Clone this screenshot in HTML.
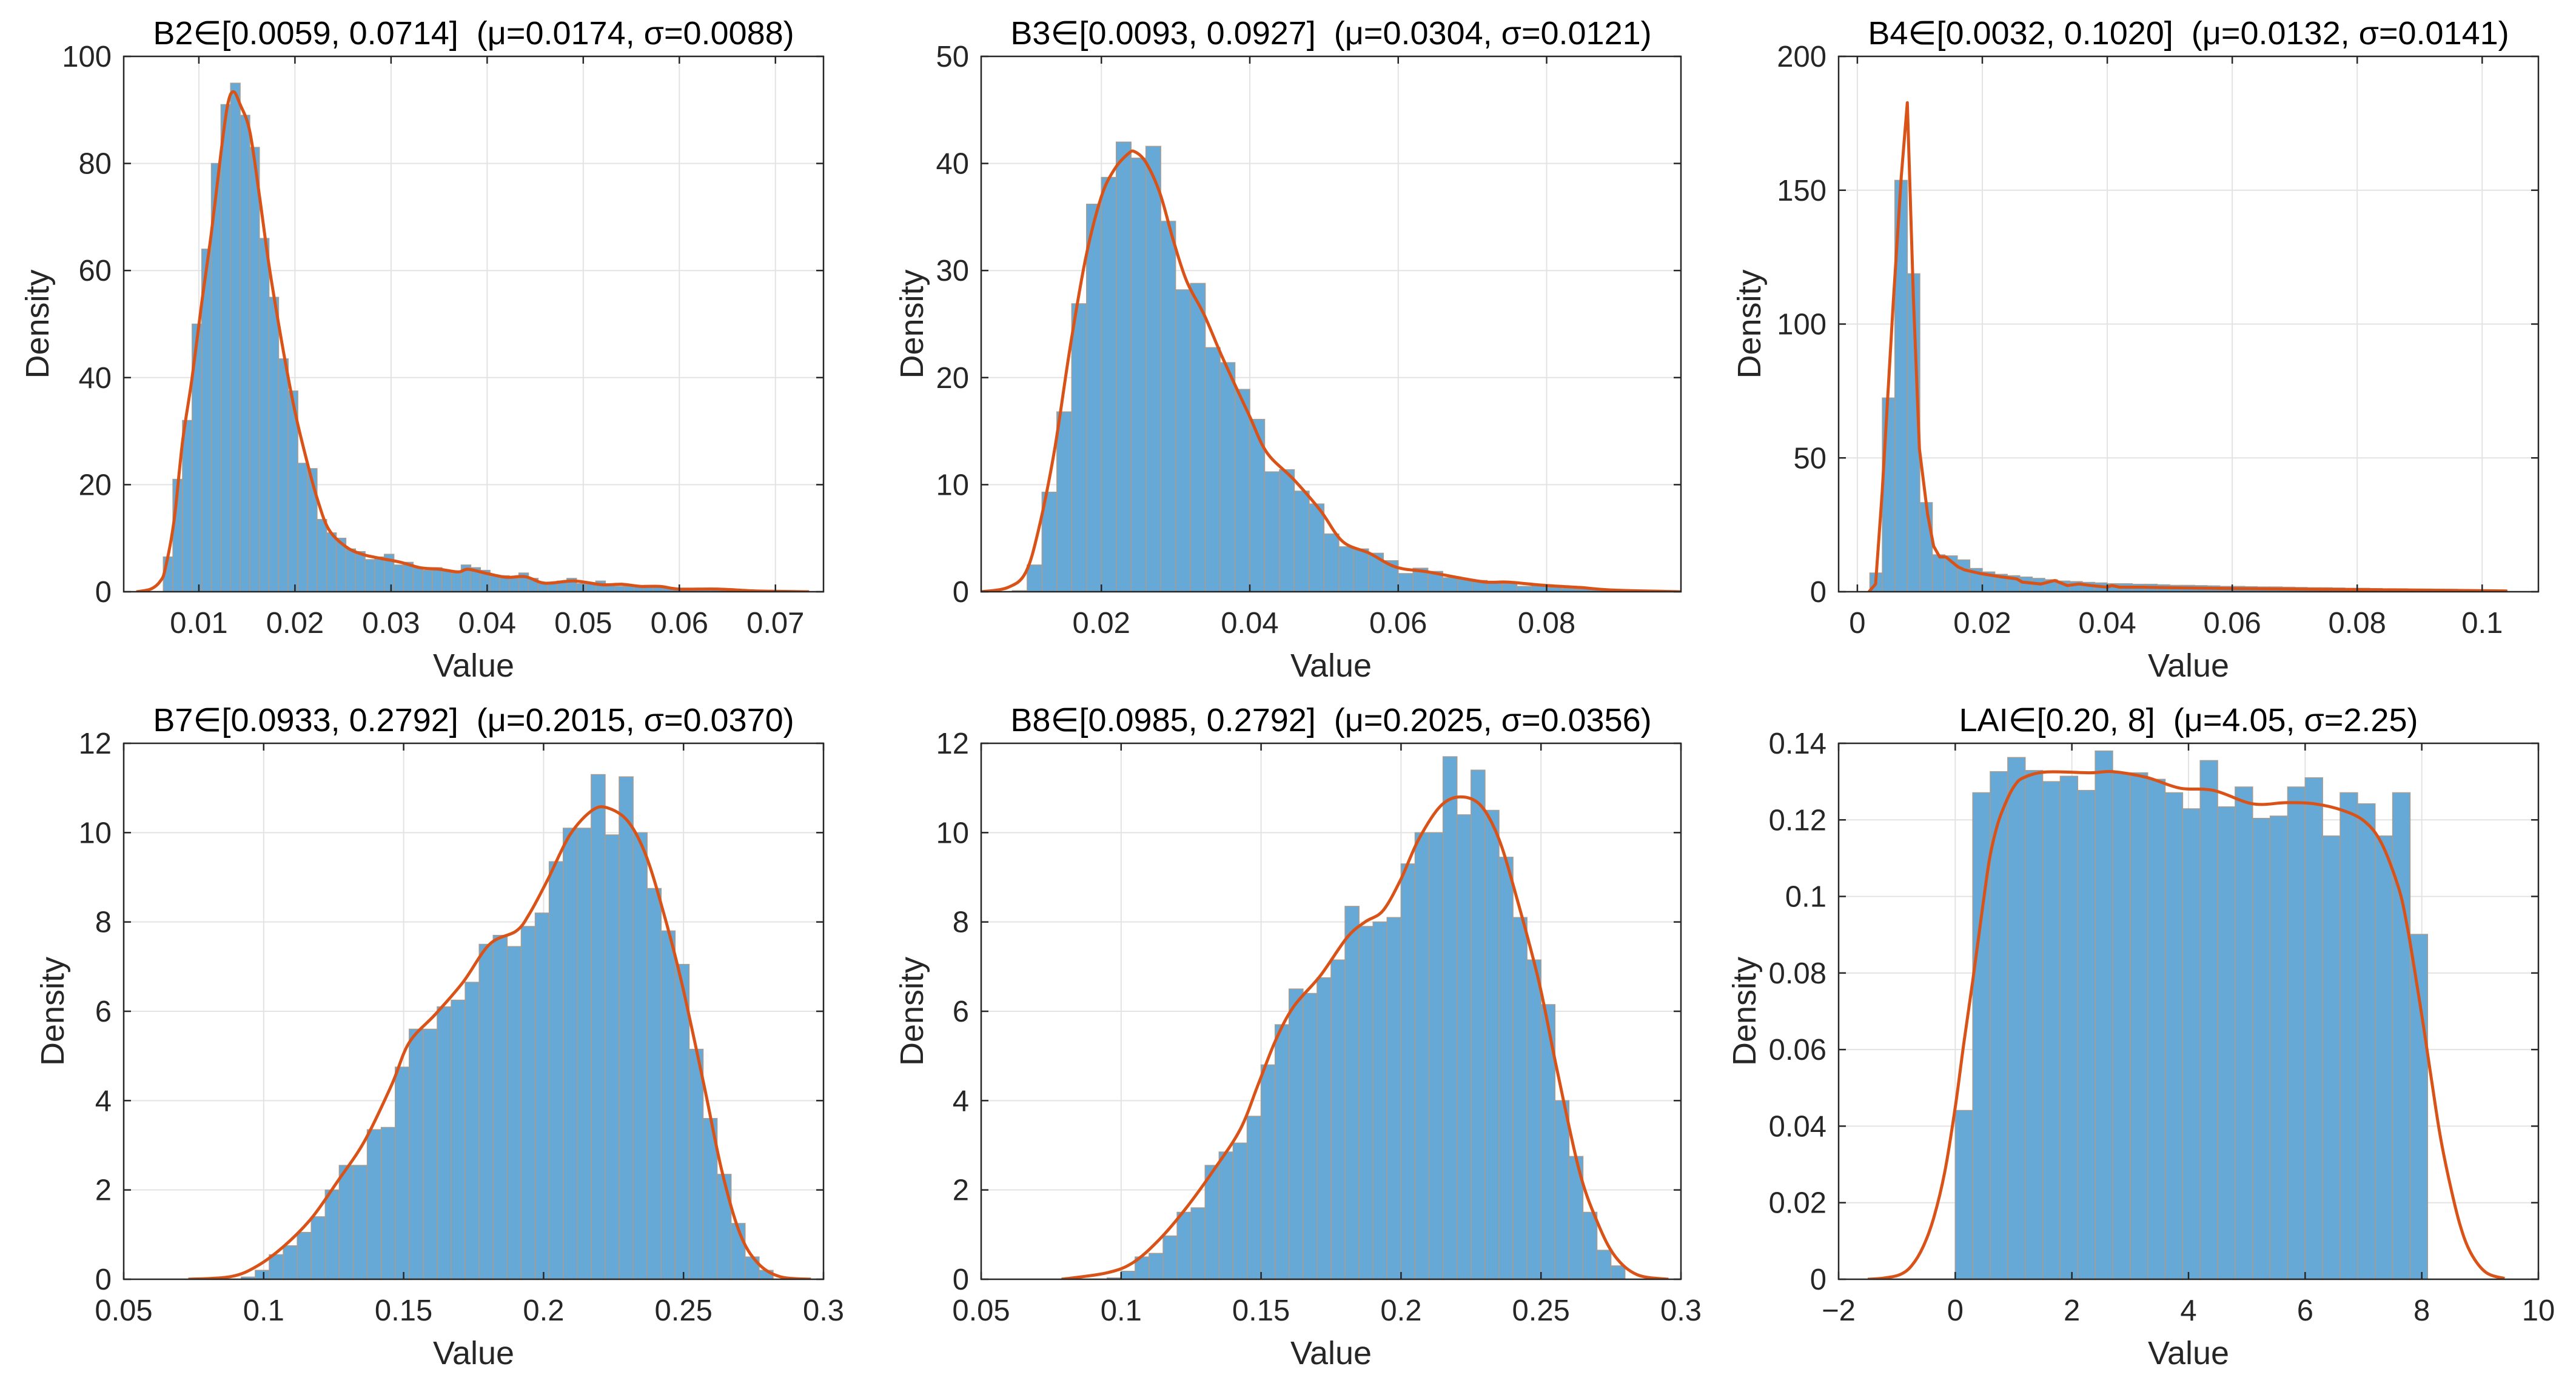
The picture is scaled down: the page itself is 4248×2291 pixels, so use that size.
<!DOCTYPE html>
<html><head><meta charset="utf-8"><style>
html,body{margin:0;padding:0;background:#fff;}
svg{display:block;font-family:"Liberation Sans",Arial,sans-serif;}
</style></head><body>
<svg id="fig" width="4248" height="2291" viewBox="0 0 4248 2291" xmlns="http://www.w3.org/2000/svg"></svg>
<script>
// ---- B2 ----
const b2Start = 0.0063, b2Width = 0.001;
const b2Density = [6.5,21,32,50,64,80,91,95,89,83,66,55,43.5,37.5,24,23,13.5,11,10,8,7.5,6,6.5,7,5,5.5,4.5,4,4.5,4,3.5,5,4.5,4,3,3,2.5,3.5,2.5,1.5,1.5,2,2.5,1.5,1.5,2,1.5,1,1,1,1.2,1,0.8,0.5,0.5,0.6,0.6,0.5,0.4,0.3,0.3,0.2,0.2,0.1,0.1];
const b2KdeX = [0.0035,0.005,0.006,0.0065,0.0074,0.0083,0.0093,0.0103,0.0113,0.0123,0.013,0.0136,0.0143,0.0153,0.0163,0.0173,0.0183,0.0193,0.0202,0.0213,0.0223,0.0235,0.0253,0.027,0.029,0.031,0.033,0.035,0.037,0.038,0.040,0.042,0.044,0.046,0.049,0.052,0.054,0.056,0.058,0.060,0.064,0.068,0.0735];
const b2KdeY = [0,0.5,2,4.3,13,28,40,54,67,82,91,93.4,91,86,74,61,50,40,32,24,17.5,11.7,8.4,7,6.2,5.5,4.5,4.2,3.7,4.2,3.4,2.7,2.8,1.6,2,1.3,1.4,1,1,0.5,0.5,0.15,0];
const b2XTicks = [0.01,0.02,0.03,0.04,0.05,0.06,0.07];
const b2XTickLabels = ["0.01","0.02","0.03","0.04","0.05","0.06","0.07"];
const b2YTicks = [0,20,40,60,80,100];
const b2YTickLabels = ["0","20","40","60","80","100"];
// ---- B3 ----
const b3Start = 0.008, b3Width = 0.002;
const b3Density = [0.1,2.5,9.3,16.8,26.9,36.2,38.7,42.0,40.5,41.6,34.6,28.2,28.8,22.8,21.4,18.9,16.1,11.2,11.4,9.4,8.2,5.4,4.2,4.0,3.6,2.9,1.7,2.2,1.9,1.3,1.15,1.05,0.8,0.75,0.5,0.55,0.4,0.3,0.25,0.2,0.15,0.1,0.05];
const b3KdeX = [0.0038,0.0074,0.0098,0.0116,0.0137,0.0158,0.0179,0.02,0.0218,0.0236,0.0245,0.026,0.0279,0.0297,0.0315,0.0339,0.0363,0.0399,0.0423,0.0459,0.0495,0.0525,0.0561,0.0597,0.064,0.0682,0.0718,0.0748,0.0796,0.0844,0.0892,0.098];
const b3KdeY = [0,0.4,1.8,6,13.3,22.9,31.2,36.9,39.5,40.9,41.1,40.1,37.2,32.8,29,25.8,21.9,16.5,13,10.5,7.6,4.7,3.6,2.3,1.85,1.3,0.9,0.9,0.6,0.4,0.15,0];
const b3XTicks = [0.02,0.04,0.06,0.08];
const b3XTickLabels = ["0.02","0.04","0.06","0.08"];
const b3YTicks = [0,10,20,30,40,50];
const b3YTickLabels = ["0","10","20","30","40","50"];
// ---- B4 ----
const b4Start = 0.002, b4Width = 0.002;
const b4Density = [7,72.4,153.7,118.8,33.3,13.8,13.4,11.9,8.7,7.4,6.5,6,5.5,5,4.5,4,3.8,3.5,3.3,3,3,2.8,2.8,2.6,2.4,2.4,2.3,2.2,2,2,1.9,1.8,1.8,1.7,1.6,1.5,1.5,1.4,1.3,1.3,1.2,1.1,1.1,1,1,0.9,0.9,0.8,0.7,0.6,0.5];
const b4KdeX = [0.00185,0.00292,0.00396,0.00574,0.00703,0.0080,0.00897,0.00994,0.01124,0.01221,0.01318,0.01415,0.0161,0.0171,0.0197,0.0229,0.0255,0.0264,0.0294,0.0316,0.0336,0.0355,0.0374,0.0400,0.0407,0.0420,0.0455,0.05,0.06,0.07,0.08,0.09,0.1,0.104];
const b4KdeY = [0,2.9,36.7,108,155,182.7,110,53.3,29,17,13,13,9.3,8.2,6.8,5.6,4.8,3.6,2.9,4.2,2.3,2.9,2.3,1.7,2.3,1.7,1.7,1.5,1.2,1.0,0.8,0.6,0.4,0.3];
const b4XTicks = [0,0.02,0.04,0.06,0.08,0.1];
const b4XTickLabels = ["0","0.02","0.04","0.06","0.08","0.1"];
const b4YTicks = [0,50,100,150,200];
const b4YTickLabels = ["0","50","100","150","200"];
// ---- B7 ----
const b7Start = 0.092, b7Width = 0.005;
const b7Density = [0.05,0.2,0.55,0.75,1.05,1.4,2.0,2.55,2.55,3.35,3.4,4.75,5.6,5.6,6.1,6.25,6.65,7.5,7.7,7.45,7.9,8.2,9.35,10.1,10.1,11.3,9.95,11.25,10.0,8.75,7.8,7.05,5.15,3.6,2.35,1.25,0.5,0.2];
const b7KdeX = [0.0731,0.0883,0.0978,0.1074,0.117,0.1265,0.1361,0.1457,0.152,0.1616,0.1712,0.1807,0.1903,0.1951,0.2015,0.2094,0.2174,0.223,0.2302,0.2365,0.2429,0.2493,0.2573,0.2636,0.27,0.2764,0.2844,0.2955];
const b7KdeY = [0,0.06,0.3,0.75,1.36,2.2,3.1,4.35,5.3,5.95,6.65,7.5,7.8,8.2,8.95,9.95,10.5,10.55,10.25,9.5,8.2,6.65,4.35,2.45,1.05,0.37,0.06,0];
const b7XTicks = [0.05,0.1,0.15,0.2,0.25,0.3];
const b7XTickLabels = ["0.05","0.1","0.15","0.2","0.25","0.3"];
const b7YTicks = [0,2,4,6,8,10,12];
const b7YTickLabels = ["0","2","4","6","8","10","12"];
// ---- B8 ----
const b8Start = 0.095, b8Width = 0.005;
const b8Density = [0.03,0.18,0.5,0.58,0.97,1.5,1.6,2.55,2.85,3.05,3.65,4.8,5.7,6.5,6.4,6.75,7.15,8.35,7.9,8.0,8.1,9.3,10.0,10.0,11.7,10.4,11.4,10.5,9.45,8.1,7.15,6.15,4.0,2.75,1.5,0.65,0.3];
const b8KdeX = [0.0787,0.0946,0.1042,0.1138,0.1233,0.1329,0.1425,0.1489,0.1552,0.1616,0.1712,0.1807,0.1871,0.1935,0.1999,0.2063,0.2142,0.2214,0.2286,0.235,0.2413,0.2493,0.2557,0.2636,0.27,0.2764,0.2844,0.2955];
const b8KdeY = [0,0.14,0.37,0.9,1.6,2.43,3.35,4.35,5.35,6.1,6.8,7.65,8.0,8.25,8.95,9.85,10.6,10.8,10.6,9.85,8.55,6.65,4.7,2.45,1.3,0.52,0.1,0];
const b8XTicks = [0.05,0.1,0.15,0.2,0.25,0.3];
const b8XTickLabels = ["0.05","0.1","0.15","0.2","0.25","0.3"];
const b8YTicks = [0,2,4,6,8,10,12];
const b8YTickLabels = ["0","2","4","6","8","10","12"];
// ---- LAI ----
const laiStart = 0, laiWidth = 0.3;
const laiDensity = [0.0441,0.1271,0.1326,0.1363,0.1329,0.1300,0.1314,0.1277,0.1380,0.1323,0.1323,0.1306,0.1271,0.1229,0.1355,0.1234,0.1286,0.1204,0.1210,0.1286,0.1310,0.1158,0.1271,0.1242,0.1158,0.1271,0.0901];
const laiKdeX = [-1.5,-1.23,-0.95,-0.75,-0.55,-0.37,-0.18,0,0.15,0.30,0.45,0.59,0.73,0.88,1.02,1.17,1.55,2.32,2.70,3.28,3.85,4.43,5.10,5.68,6.16,6.64,7.02,7.31,7.60,7.74,7.88,8.03,8.17,8.31,8.46,8.65,8.84,9.1,9.42];
const laiKdeY = [0,0.0003,0.0012,0.0035,0.0085,0.016,0.028,0.0449,0.062,0.078,0.095,0.110,0.119,0.125,0.129,0.131,0.1325,0.1323,0.1326,0.1311,0.1283,0.1277,0.1242,0.1245,0.1242,0.1225,0.1196,0.1139,0.1024,0.093,0.0805,0.066,0.0518,0.038,0.0265,0.0145,0.0069,0.0018,0.0002];
const laiXTicks = [-2,0,2,4,6,8,10];
const laiXTickLabels = ["\u22122","0","2","4","6","8","10"];
const laiYTicks = [0,0.02,0.04,0.06,0.08,0.1,0.12,0.14];
const laiYTickLabels = ["0","0.02","0.04","0.06","0.08","0.1","0.12","0.14"];

const NS = "http://www.w3.org/2000/svg";
const svg = document.getElementById('fig');
function mk(tag, attrs, parent){
  const e = document.createElementNS(NS, tag);
  for (const k in attrs) e.setAttribute(k, attrs[k]);
  parent.appendChild(e);
  return e;
}
const SP = '\u00a0\u00a0';
const panels = [
  {key:'b2', title:'B2\u2208[0.0059, 0.0714]'+SP+'(\u03bc=0.0174, \u03c3=0.0088)', L:204, T:93, H:883, yo:144, smooth:true, xlim:[0.00218,0.075], ylim:[0,100], start:b2Start, w:b2Width, d:b2Density, kx:b2KdeX, ky:b2KdeY, xt:b2XTicks, xl:b2XTickLabels, yt:b2YTicks, yl:b2YTickLabels},
  {key:'b3', title:'B3\u2208[0.0093, 0.0927]'+SP+'(\u03bc=0.0304, \u03c3=0.0121)', L:1618, T:93, H:883, yo:116, smooth:true, xlim:[0.0038,0.0981], ylim:[0,50], start:b3Start, w:b3Width, d:b3Density, kx:b3KdeX, ky:b3KdeY, xt:b3XTicks, xl:b3XTickLabels, yt:b3YTicks, yl:b3YTickLabels},
  {key:'b4', title:'B4\u2208[0.0032, 0.1020]'+SP+'(\u03bc=0.0132, \u03c3=0.0141)', L:3032, T:93, H:883, yo:149, smooth:false, xlim:[-0.003,0.109], ylim:[0,200], start:b4Start, w:b4Width, d:b4Density, kx:b4KdeX, ky:b4KdeY, xt:b4XTicks, xl:b4XTickLabels, yt:b4YTicks, yl:b4YTickLabels},
  {key:'b7', title:'B7\u2208[0.0933, 0.2792]'+SP+'(\u03bc=0.2015, \u03c3=0.0370)', L:204, T:1226, H:884, yo:119, smooth:true, xlim:[0.05,0.3], ylim:[0,12], start:b7Start, w:b7Width, d:b7Density, kx:b7KdeX, ky:b7KdeY, xt:b7XTicks, xl:b7XTickLabels, yt:b7YTicks, yl:b7YTickLabels},
  {key:'b8', title:'B8\u2208[0.0985, 0.2792]'+SP+'(\u03bc=0.2025, \u03c3=0.0356)', L:1618, T:1226, H:884, yo:116, smooth:true, xlim:[0.05,0.3], ylim:[0,12], start:b8Start, w:b8Width, d:b8Density, kx:b8KdeX, ky:b8KdeY, xt:b8XTicks, xl:b8XTickLabels, yt:b8YTicks, yl:b8YTickLabels},
  {key:'lai', title:'LAI\u2208[0.20, 8]'+SP+'(\u03bc=4.05, \u03c3=2.25)', L:3032, T:1226, H:884, yo:157, smooth:true, xlim:[-2,10], ylim:[0,0.14], start:laiStart, w:laiWidth, d:laiDensity, kx:laiKdeX, ky:laiKdeY, xt:laiXTicks, xl:laiXTickLabels, yt:laiYTicks, yl:laiYTickLabels}
];
const W = 1154;
function pathFrom(pts, smooth){
  if (!smooth) return pts.map((q,i)=>(i?'L':'M')+q[0].toFixed(1)+','+q[1].toFixed(1)).join('');
  let d = 'M'+pts[0][0].toFixed(1)+','+pts[0][1].toFixed(1);
  for (let i=0;i<pts.length-1;i++){
    const p0=pts[Math.max(0,i-1)], p1=pts[i], p2=pts[i+1], p3=pts[Math.min(pts.length-1,i+2)];
    const c1=[p1[0]+(p2[0]-p0[0])/6, p1[1]+(p2[1]-p0[1])/6];
    const c2=[p2[0]-(p3[0]-p1[0])/6, p2[1]-(p3[1]-p1[1])/6];
    d += 'C'+c1[0].toFixed(1)+','+c1[1].toFixed(1)+' '+c2[0].toFixed(1)+','+c2[1].toFixed(1)+' '+p2[0].toFixed(1)+','+p2[1].toFixed(1);
  }
  return d;
}
panels.forEach(p => {
  const g = mk('g', {}, svg);
  
  
  const B = p.T + p.H, R = p.L + W;
  const sx = v => p.L + (v - p.xlim[0]) / (p.xlim[1] - p.xlim[0]) * W;
  const sy = v => B - (v - p.ylim[0]) / (p.ylim[1] - p.ylim[0]) * p.H;
  const clipId = 'clip-' + p.key;
  const cp = mk('clipPath', {id: clipId}, g);
  mk('rect', {x:p.L, y:p.T, width:W, height:p.H}, cp);
  const grid = mk('g', {stroke:'#e3e3e3', 'stroke-width':2}, g);
  
  
  p.xt.forEach(v => { const x = sx(v); if (x > p.L+1 && x < R-1) mk('line', {x1:x, x2:x, y1:p.T, y2:B}, grid); });
  p.yt.forEach(v => { const y = sy(v); if (y > p.T+1 && y < B-1) mk('line', {x1:p.L, x2:R, y1:y, y2:y}, grid); });
  const bars = mk('g', {'clip-path':'url(#'+clipId+')'}, g);
  
  
  p.d.forEach((v, i) => {
    const x0 = sx(p.start + i * p.w), x1 = sx(p.start + (i + 1) * p.w);
    const y = sy(v);
    const r = mk('rect', {x:x0, y:y, width:x1 - x0, height:B - y, fill:'#66a9d6', stroke:'#a79c92', 'stroke-width':1.5}, bars);
    
    
  });
  const pts = p.kx.map((v, i) => [sx(v), sy(p.ky[i])]);
  const kde = mk('path', {d:pathFrom(pts, p.smooth), fill:'none', stroke:'#d95319', 'stroke-width':5, 'stroke-linejoin':'round', 'clip-path':'url(#'+clipId+')'}, g);
  
  
  const box = mk('rect', {x:p.L, y:p.T, width:W, height:p.H, fill:'none', stroke:'#262626', 'stroke-width':2.5}, g);
  
  
  const tk = mk('g', {stroke:'#262626', 'stroke-width':2.5}, g);
  p.xt.forEach(v => { const x = sx(v); mk('line', {x1:x, x2:x, y1:B, y2:B-12}, tk); mk('line', {x1:x, x2:x, y1:p.T, y2:p.T+12}, tk); });
  p.yt.forEach(v => { const y = sy(v); mk('line', {x1:p.L, x2:p.L+12, y1:y, y2:y}, tk); mk('line', {x1:R, x2:R-12, y1:y, y2:y}, tk); });
  p.xt.forEach((v, i) => {
    const t = mk('text', {x:sx(v), y:B + 68, 'font-size':49, fill:'#262626', 'text-anchor':'middle'}, g);
    t.textContent = p.xl[i];
    
    
  });
  p.yt.forEach((v, i) => {
    const t = mk('text', {x:p.L - 20, y:sy(v) + 17, 'font-size':49, fill:'#262626', 'text-anchor':'end'}, g);
    t.textContent = p.yl[i];
    
    
  });
  const tt = mk('text', {x:p.L + W/2, y:p.T - 20, 'font-size':54, fill:'#000', 'text-anchor':'middle'}, g);
  tt.textContent = p.title;
  
  
  const xl = mk('text', {x:p.L + W/2, y:B + 140, 'font-size':54, fill:'#262626', 'text-anchor':'middle'}, g);
  xl.textContent = 'Value';
  
  
  const yx = p.L - p.yo + 20, yy = p.T + p.H/2;
  const yl = mk('text', {x:yx, y:yy, 'font-size':54, fill:'#262626', 'text-anchor':'middle', transform:'rotate(-90 '+yx+' '+yy+')'}, g);
  yl.textContent = 'Density';
  
  
});
</script>
</body></html>
